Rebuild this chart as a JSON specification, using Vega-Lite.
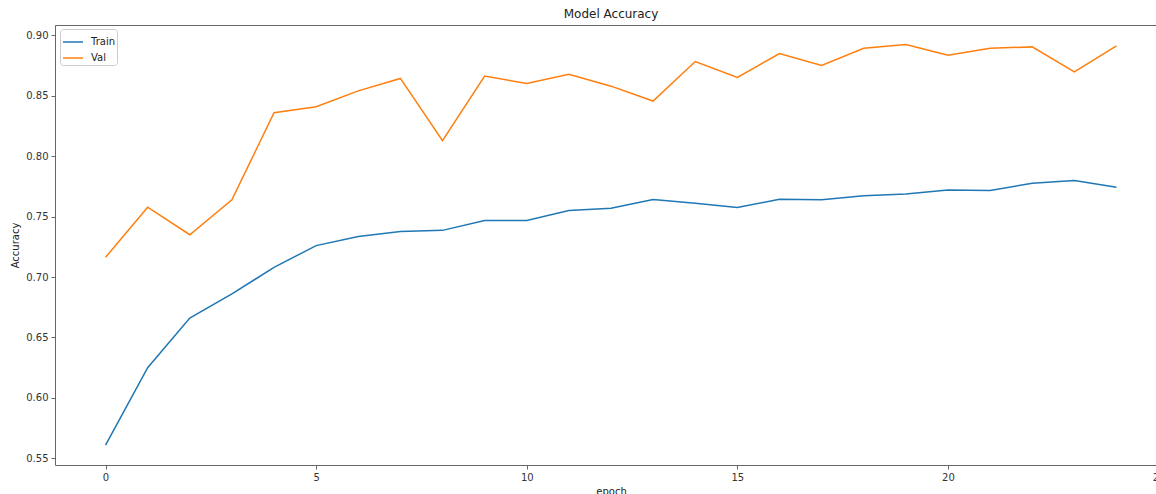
{
  "$schema": "https://vega.github.io/schema/vega-lite/v6.json",
  "autosize": {"type": "none"},
  "padding": {"left": 55, "top": 25, "right": 0, "bottom": 29},
  "width": 1112,
  "height": 440,
  "background": "white",
  "config": {
    "font": "DejaVu Sans",
    "view": {"stroke": "#666", "strokeWidth": 1},
    "axis": {
      "domain": false,
      "grid": false,
      "ticks": true,
      "tickSize": 4,
      "tickColor": "#666",
      "labelFont": "DejaVu Sans",
      "labelFontSize": 10,
      "labelColor": "#333",
      "titleFont": "DejaVu Sans",
      "titleFontSize": 10,
      "titleFontWeight": "normal",
      "titleColor": "#222",
      "labelPadding": 3
    }
  },
  "title": {
    "text": "Model Accuracy",
    "font": "DejaVu Sans",
    "fontSize": 12,
    "fontWeight": "normal",
    "color": "#222",
    "anchor": "middle",
    "offset": 4
  },
  "data": {
    "values": [
      {"epoch": 0, "series": "Train", "acc": 0.561},
      {"epoch": 1, "series": "Train", "acc": 0.625},
      {"epoch": 2, "series": "Train", "acc": 0.666},
      {"epoch": 3, "series": "Train", "acc": 0.686},
      {"epoch": 4, "series": "Train", "acc": 0.708},
      {"epoch": 5, "series": "Train", "acc": 0.726},
      {"epoch": 6, "series": "Train", "acc": 0.7336},
      {"epoch": 7, "series": "Train", "acc": 0.7377},
      {"epoch": 8, "series": "Train", "acc": 0.7386},
      {"epoch": 9, "series": "Train", "acc": 0.7468},
      {"epoch": 10, "series": "Train", "acc": 0.7468},
      {"epoch": 11, "series": "Train", "acc": 0.755},
      {"epoch": 12, "series": "Train", "acc": 0.757},
      {"epoch": 13, "series": "Train", "acc": 0.7641},
      {"epoch": 14, "series": "Train", "acc": 0.7611},
      {"epoch": 15, "series": "Train", "acc": 0.7575},
      {"epoch": 16, "series": "Train", "acc": 0.7644},
      {"epoch": 17, "series": "Train", "acc": 0.7639},
      {"epoch": 18, "series": "Train", "acc": 0.7672},
      {"epoch": 19, "series": "Train", "acc": 0.7686},
      {"epoch": 20, "series": "Train", "acc": 0.7721},
      {"epoch": 21, "series": "Train", "acc": 0.7716},
      {"epoch": 22, "series": "Train", "acc": 0.7776},
      {"epoch": 23, "series": "Train", "acc": 0.7798},
      {"epoch": 24, "series": "Train", "acc": 0.7743},
      {"epoch": 0, "series": "Val", "acc": 0.7163},
      {"epoch": 1, "series": "Val", "acc": 0.7578},
      {"epoch": 2, "series": "Val", "acc": 0.735},
      {"epoch": 3, "series": "Val", "acc": 0.7639},
      {"epoch": 4, "series": "Val", "acc": 0.8359},
      {"epoch": 5, "series": "Val", "acc": 0.8409},
      {"epoch": 6, "series": "Val", "acc": 0.854},
      {"epoch": 7, "series": "Val", "acc": 0.8643},
      {"epoch": 8, "series": "Val", "acc": 0.8128},
      {"epoch": 9, "series": "Val", "acc": 0.8662},
      {"epoch": 10, "series": "Val", "acc": 0.8601},
      {"epoch": 11, "series": "Val", "acc": 0.8678},
      {"epoch": 12, "series": "Val", "acc": 0.8579},
      {"epoch": 13, "series": "Val", "acc": 0.8456},
      {"epoch": 14, "series": "Val", "acc": 0.8783},
      {"epoch": 15, "series": "Val", "acc": 0.8651},
      {"epoch": 16, "series": "Val", "acc": 0.8849},
      {"epoch": 17, "series": "Val", "acc": 0.875},
      {"epoch": 18, "series": "Val", "acc": 0.8893},
      {"epoch": 19, "series": "Val", "acc": 0.8923},
      {"epoch": 20, "series": "Val", "acc": 0.8835},
      {"epoch": 21, "series": "Val", "acc": 0.8893},
      {"epoch": 22, "series": "Val", "acc": 0.8904},
      {"epoch": 23, "series": "Val", "acc": 0.8697},
      {"epoch": 24, "series": "Val", "acc": 0.8912}
    ]
  },
  "mark": {"type": "line", "strokeWidth": 1.5, "clip": false},
  "encoding": {
    "x": {
      "field": "epoch",
      "type": "quantitative",
      "scale": {"domain": [-1.2, 25.2], "nice": false, "zero": false},
      "axis": {"values": [0, 5, 10, 15, 20, 25], "format": "d", "title": "epoch", "titlePadding": 4}
    },
    "y": {
      "field": "acc",
      "type": "quantitative",
      "scale": {"domain": [0.5445, 0.9085], "nice": false, "zero": false},
      "axis": {"values": [0.55, 0.6, 0.65, 0.7, 0.75, 0.8, 0.85, 0.9], "format": ".2f", "title": "Accuracy", "titlePadding": 5}
    },
    "color": {
      "field": "series",
      "type": "nominal",
      "scale": {"domain": ["Train", "Val"], "range": ["#1f77b4", "#ff7f0e"]},
      "legend": {
        "title": null,
        "orient": "none",
        "legendX": 5,
        "legendY": 4,
        "symbolType": "stroke",
        "symbolSize": 400,
        "symbolStrokeWidth": 1.5,
        "labelFont": "DejaVu Sans",
        "labelFontSize": 10,
        "labelColor": "#222",
        "labelOffset": 7,
        "padding": 2,
        "rowPadding": -5,
        "fillColor": "white",
        "strokeColor": "#ccc",
        "cornerRadius": 3
      }
    }
  }
}
